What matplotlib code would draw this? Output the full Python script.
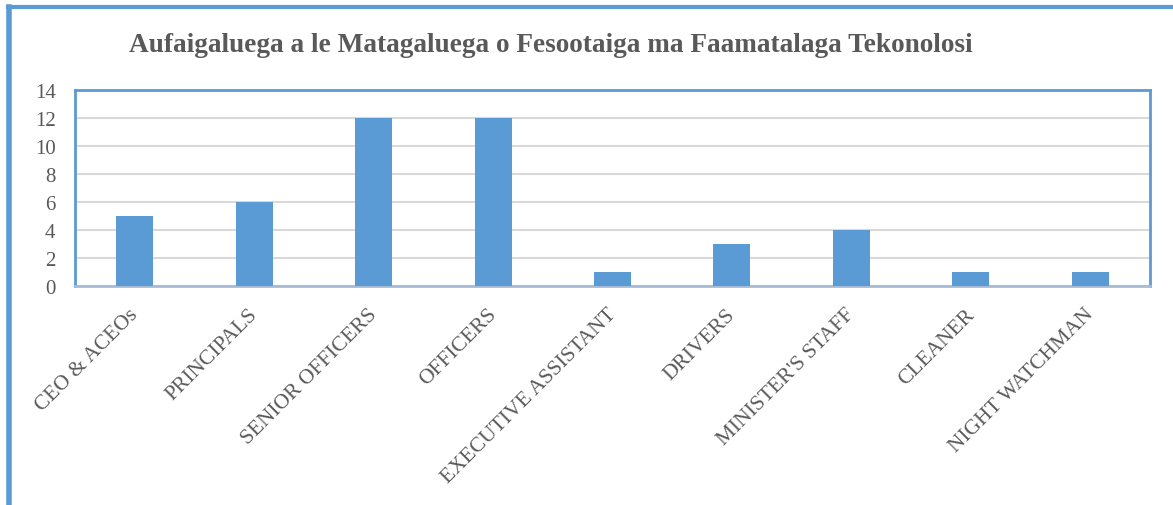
import matplotlib.pyplot as plt
import matplotlib.transforms as mtransforms
import numpy as np

categories = ['CEO & ACEOs', 'PRINCIPALS', 'SENIOR OFFICERS', 'OFFICERS',
              'EXECUTIVE ASSISTANT', 'DRIVERS', "MINISTER'S STAFF", 'CLEANER',
              'NIGHT WATCHMAN']
counts = [5, 6, 12, 12, 1, 3, 4, 1, 1]
title = 'Aufaigaluega a le Matagaluega o Fesootaiga ma Faamatalaga Tekonolosi'

blue = '#5B9BD5'
gray = '#595959'
plt.rcParams['font.family'] = ['Liberation Serif', 'DejaVu Serif']

fig = plt.figure(figsize=(11.73, 5.06), dpi=100)
ax = fig.add_axes([75 / 1173, 1 - 287 / 506, (1150 - 75) / 1173, (287 - 91) / 506])

x = np.arange(len(categories))
ax.bar(x, counts, width=0.31, color=blue, zorder=3)
ax.set_xlim(-0.5, len(categories) - 0.5)
ax.set_ylim(0, 14)
ax.set_yticks(range(0, 15, 2))
ax.yaxis.grid(True, color='#D9D9D9', linewidth=1.5, zorder=0)
ax.set_xticks(x)
ax.set_xticklabels(categories, rotation=45, ha='right', rotation_mode='anchor',
                   fontsize=15.5, color=gray)
ax.tick_params(axis='y', labelsize=15, labelcolor=gray, length=0, pad=14)
ax.tick_params(axis='x', length=0, pad=12)

# nudge the rotated labels so their ends sit under the bars
offset = mtransforms.ScaledTranslation(-6 / 100, -2 / 100, fig.dpi_scale_trans)
for lbl in ax.get_xticklabels():
    lbl.set_transform(lbl.get_transform() + offset)

for side in ['top', 'left', 'right']:
    ax.spines[side].set_color(blue)
    ax.spines[side].set_linewidth(2)
ax.spines['bottom'].set_color('#A6BCD6')
ax.spines['bottom'].set_linewidth(2)

fig.text(551 / 1173, 1 - 46 / 506, title, ha='center', va='center',
         fontsize=19.6, fontweight='bold', color=gray)

# outer frame lines (top and left)
fig.add_artist(plt.Line2D([8 / 1173, 1], [1 - 8 / 506, 1 - 8 / 506], color=blue, lw=3))
fig.add_artist(plt.Line2D([9 / 1173, 9 / 1173], [0, 1 - 8 / 506], color=blue, lw=4))

fig.savefig('out.png', dpi=100)
